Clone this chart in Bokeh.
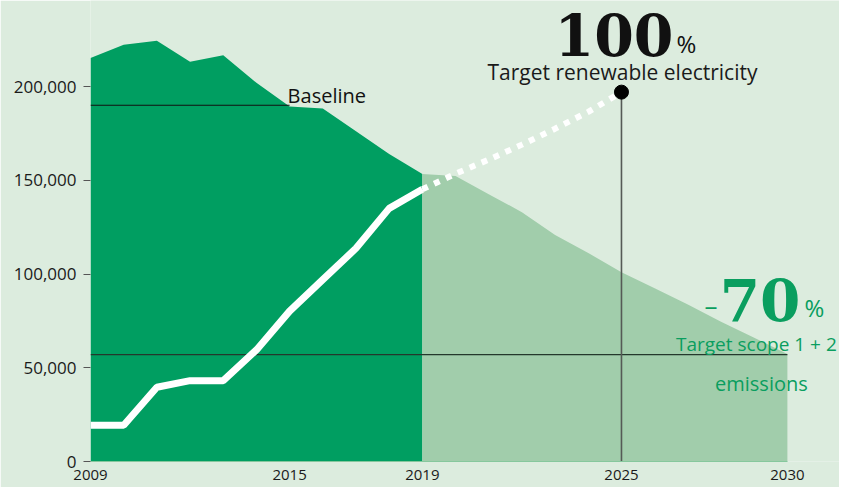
from bokeh.plotting import figure
from bokeh.models import FixedTicker, NumeralTickFormatter, Label, Range1d
from bokeh.embed import file_html
from bokeh.resources import INLINE

# ---------------- data ----------------
years_hist = [2009, 2010, 2011, 2012, 2013, 2014, 2015, 2016, 2017, 2018, 2019]
emissions_hist = [215200, 222300, 224400, 213200, 216700, 202000, 189300, 188300, 176100, 164000, 153300]
renewable_hist = [19300, 19300, 39600, 43100, 43100, 59500, 80200, 97000, 113700, 135000, 145200]

years_fc = [2019, 2020, 2021, 2022, 2023, 2024, 2025, 2026, 2027, 2028, 2029, 2030]
emissions_fc = [153300, 152300, 142600, 133000, 120800, 111200, 101000, 92400, 83800, 74600, 66000, 57400]

years_target = [2019, 2020, 2021, 2022, 2023, 2024, 2025]
renewable_target = [145200, 153500, 161000, 169000, 177500, 186500, 197000]

baseline_value = 190000
baseline_years = [2009, 2015]
target_value = 57000
target_years = [2009, 2030]

x_ticks = [2009, 2015, 2019, 2025, 2030]
y_ticks = [0, 50000, 100000, 150000, 200000]

# ---------------- style ----------------
BG = "#dcecde"
DARK = "#009e61"
LIGHT = "#a1cdab"
GREEN_TXT = "#0a9e5f"
SANS = "Open Sans"
SERIF = "DejaVu Serif"

p = figure(width=839, height=487, output_backend="svg", toolbar_location=None,
           x_range=Range1d(years_hist[0], 2031.57), y_range=Range1d(0, 245867),
           min_border_left=90, min_border_right=0, min_border_top=0, min_border_bottom=26)
p.background_fill_color = BG
p.border_fill_color = BG
p.outline_line_color = None
p.xgrid.grid_line_color = None
p.ygrid.grid_line_color = None

# areas
p.varea(x=years_hist, y1=0, y2=emissions_hist, fill_color=DARK)
p.varea(x=years_fc, y1=0, y2=emissions_fc, fill_color=LIGHT)

# reference lines
p.line(x=baseline_years, y=[baseline_value] * 2, line_color="#111111", line_width=1.2)
p.line(x=target_years, y=[target_value] * 2, line_color="#24382c", line_width=1.2)
p.segment(x0=[years_target[-1]], y0=[0], x1=[years_target[-1]], y1=[renewable_target[-1]],
          line_color="#555a56", line_width=1.6)

# renewable lines
p.line(x=years_hist, y=renewable_hist, line_color="white", line_width=7)
p.line(x=years_target, y=renewable_target, line_color="white", line_width=6, line_dash="6 7")
p.scatter(x=[years_target[-1]], y=[renewable_target[-1]], size=14, color="black")

# axes
p.xaxis.ticker = FixedTicker(ticks=x_ticks)
p.xaxis.major_tick_line_color = None
p.xaxis.minor_tick_line_color = None
p.xaxis.axis_line_color = "#86c89d"
p.xaxis.bounds = (target_years[0], target_years[1])
p.xaxis.major_label_standoff = 2
p.xaxis.major_label_text_font = SANS
p.xaxis.major_label_text_font_size = "15px"
p.xaxis.major_label_text_color = "#1a1a1a"

p.yaxis.ticker = FixedTicker(ticks=y_ticks)
p.yaxis.formatter = NumeralTickFormatter(format="0,0")
p.yaxis.axis_line_color = None
p.yaxis.minor_tick_line_color = None
p.yaxis.major_tick_in = 0
p.yaxis.major_tick_out = 7
p.yaxis.major_tick_line_color = "#555555"
p.yaxis.major_label_standoff = 7
p.yaxis.major_label_text_font = SANS
p.yaxis.major_label_text_font_size = "17px"
p.yaxis.major_label_text_color = "#1a1a1a"

# annotations
def lab(x, y, text, dx, dy, align, size, color, font=SANS, style="normal"):
    p.add_layout(Label(x=x, y=y, text=text, x_offset=dx, y_offset=dy, text_align=align,
                       text_baseline="alphabetic", text_font=font, text_font_size=size,
                       text_color=color, text_font_style=style))

tx, ty = years_target[-1], renewable_target[-1]
lab(tx, ty, "100", 52, 58, "right", "57px", "#111111", SERIF, "bold")
lab(tx, ty, "%", 55, 49, "left", "24px", "#111111")
lab(tx, ty, "Target renewable electricity", 1, 20, "center", "21px", "#1a1a1a")

gx, gy = target_years[1], target_value
lab(gx, gy, "70", 13, 55, "right", "58px", GREEN_TXT, SERIF, "bold")
lab(gx, gy, "\u2013", -70, 50, "right", "26px", GREEN_TXT)
lab(gx, gy, "%", 17, 47, "left", "24px", GREEN_TXT)
lab(gx, gy, "Target scope 1 + 2", -31, 11, "center", "19px", GREEN_TXT)
lab(gx, gy, "emissions", -26, -29, "center", "20px", GREEN_TXT)

lab(baseline_years[1], baseline_value, "Baseline", -2, 10, "left", "20px", "#111111")

open("out.html", "w").write(file_html(p, INLINE))
